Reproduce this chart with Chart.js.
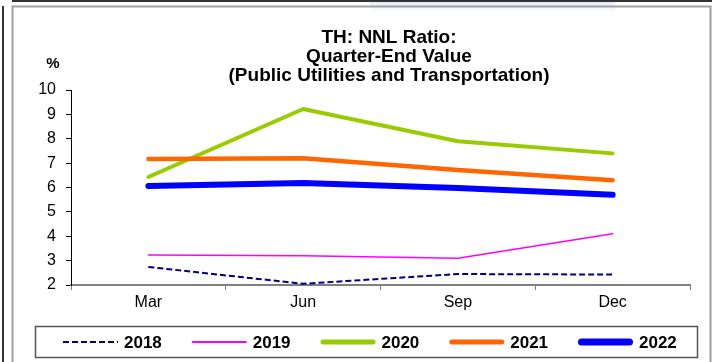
<!DOCTYPE html>
<html>
<head>
<meta charset="utf-8">
<script src="https://cdn.jsdelivr.net/npm/chart.js@4.4.1/dist/chart.umd.min.js"></script>
<style>
  html, body { margin: 0; padding: 0; background: #fff; overflow: hidden; }
  #c { display: block; }
</style>
</head>
<body>
<canvas id="c" width="712" height="362"></canvas>
<script>
// Quarter-end NNL ratio, public utilities and transportation (%)
const quarters = ['Mar', 'Jun', 'Sep', 'Dec'];
const years = ['2018', '2019', '2020', '2021', '2022'];
const nnl2018 = [2.74, 2.05, 2.45, 2.43];
const nnl2019 = [3.23, 3.20, 3.10, 4.10];
const nnl2020 = [6.43, 9.22, 7.90, 7.40];
const nnl2021 = [7.17, 7.20, 6.72, 6.30];
const nnl2022 = [6.06, 6.18, 5.98, 5.70];
const yMin = 2, yMax = 10, yStep = 1;
const titleLines = ['TH: NNL Ratio:', 'Quarter-End Value', '(Public Utilities and Transportation)'];
const unitLabel = '%';

const FONT = "'Liberation Sans', Arial, sans-serif";

const seriesStyle = [
  { color: '#000080', width: 2,   dash: [6, 3], legendWidth: 2 },
  { color: '#FF00FF', width: 1.5, dash: [],     legendWidth: 2 },
  { color: '#99CC00', width: 4,   dash: [],     legendWidth: 5 },
  { color: '#FF6600', width: 4.5, dash: [],     legendWidth: 5 },
  { color: '#0000FF', width: 6,   dash: [],     legendWidth: 7 }
];
const seriesValues = [nnl2018, nnl2019, nnl2020, nnl2021, nnl2022];

const datasets = years.map((y, i) => ({
  label: y,
  data: seriesValues[i],
  borderColor: seriesStyle[i].color,
  backgroundColor: seriesStyle[i].color,
  borderWidth: seriesStyle[i].width,
  borderDash: seriesStyle[i].dash,
  borderCapStyle: seriesStyle[i].dash.length ? 'butt' : 'round',
  borderJoinStyle: 'round',
  pointRadius: 0,
  tension: 0,
  fill: false,
  order: years.length - 1 - i
}));

// Outer frame lines around the panel
const framePlugin = {
  id: 'frame',
  beforeDraw(chart) {
    const ctx = chart.ctx;
    ctx.save();
    ctx.fillStyle = '#fff';
    ctx.fillRect(0, 0, chart.width, chart.height);
    const g = ctx.createLinearGradient(0, 0, 0, 14);
    g.addColorStop(0, 'rgba(220,222,245,0.8)');
    g.addColorStop(1, 'rgba(235,236,250,0)');
    ctx.fillStyle = g;
    ctx.fillRect(370, 0, 245, 14);
    ctx.strokeStyle = '#333';
    ctx.lineWidth = 2;
    ctx.beginPath();
    ctx.moveTo(12, 1); ctx.lineTo(712, 1);
    ctx.moveTo(3, 6); ctx.lineTo(3, 362);
    ctx.stroke();
    ctx.strokeStyle = '#a0a0a0';
    ctx.lineWidth = 2;
    ctx.beginPath();
    ctx.moveTo(12.5, 362); ctx.lineTo(12.5, 6.5); ctx.lineTo(710.5, 6.5); ctx.lineTo(710.5, 362);
    ctx.stroke();
    ctx.restore();
  }
};

// Title block and unit label
const titlePlugin = {
  id: 'titleBlock',
  afterDraw(chart) {
    const ctx = chart.ctx;
    ctx.save();
    ctx.fillStyle = '#000';
    ctx.font = 'bold 19px ' + FONT;
    ctx.textAlign = 'center';
    ctx.textBaseline = 'alphabetic';
    titleLines.forEach((t, i) => ctx.fillText(t, 389, 43 + i * 19));
    ctx.font = 'bold 15px ' + FONT;
    ctx.fillText(unitLabel, 53, 68);
    ctx.restore();
  }
};

// Boxed legend along the bottom
const legendPlugin = {
  id: 'boxLegend',
  afterDraw(chart) {
    const ctx = chart.ctx;
    ctx.save();
    ctx.strokeStyle = '#555';
    ctx.lineWidth = 1.5;
    ctx.strokeRect(35.5, 326.5, 662, 31);
    const y = 342;
    const start = 63, step = 128.75, lineLen = 55, gap = 6;
    ctx.font = 'bold 17px ' + FONT;
    ctx.textBaseline = 'middle';
    ctx.textAlign = 'left';
    chart.data.datasets.forEach((ds, i) => {
      const st = seriesStyle[i];
      const x0 = start + i * step;
      ctx.beginPath();
      ctx.strokeStyle = ds.borderColor;
      ctx.lineWidth = st.legendWidth;
      ctx.setLineDash(st.dash);
      ctx.lineCap = st.dash.length ? 'butt' : 'round';
      ctx.moveTo(x0 + (st.dash.length ? 0 : st.legendWidth / 2), y);
      ctx.lineTo(x0 + lineLen - (st.dash.length ? 0 : st.legendWidth / 2), y);
      ctx.stroke();
      ctx.setLineDash([]);
      ctx.fillStyle = '#000';
      ctx.fillText(ds.label, x0 + lineLen + gap, y + 1);
    });
    ctx.restore();
  }
};

new Chart(document.getElementById('c'), {
  type: 'line',
  data: { labels: quarters, datasets },
  options: {
    responsive: false,
    animation: false,
    devicePixelRatio: 1,
    layout: { padding: { left: 0, right: 22, top: 90, bottom: 47 } },
    plugins: { legend: { display: false }, title: { display: false }, tooltip: { enabled: false } },
    scales: {
      x: {
        type: 'category',
        offset: true,
        grid: { offset: true, drawOnChartArea: false, drawTicks: true, tickLength: 5, color: '#808080', lineWidth: 1 },
        border: { color: '#808080', width: 2 },
        ticks: { color: '#000', font: { family: FONT, size: 16 }, padding: 3, maxRotation: 0 },
        afterFit(s) { s.height = 30; }
      },
      y: {
        min: yMin, max: yMax,
        grid: { drawOnChartArea: false, drawTicks: true, tickLength: 5, color: '#000', lineWidth: 1 },
        border: { color: '#000', width: 1 },
        ticks: { stepSize: yStep, color: '#000', font: { family: FONT, size: 16 }, padding: 10 },
        afterFit(s) { s.width = 71; }
      }
    }
  },
  plugins: [framePlugin, titlePlugin, legendPlugin]
});
</script>
</body>
</html>
